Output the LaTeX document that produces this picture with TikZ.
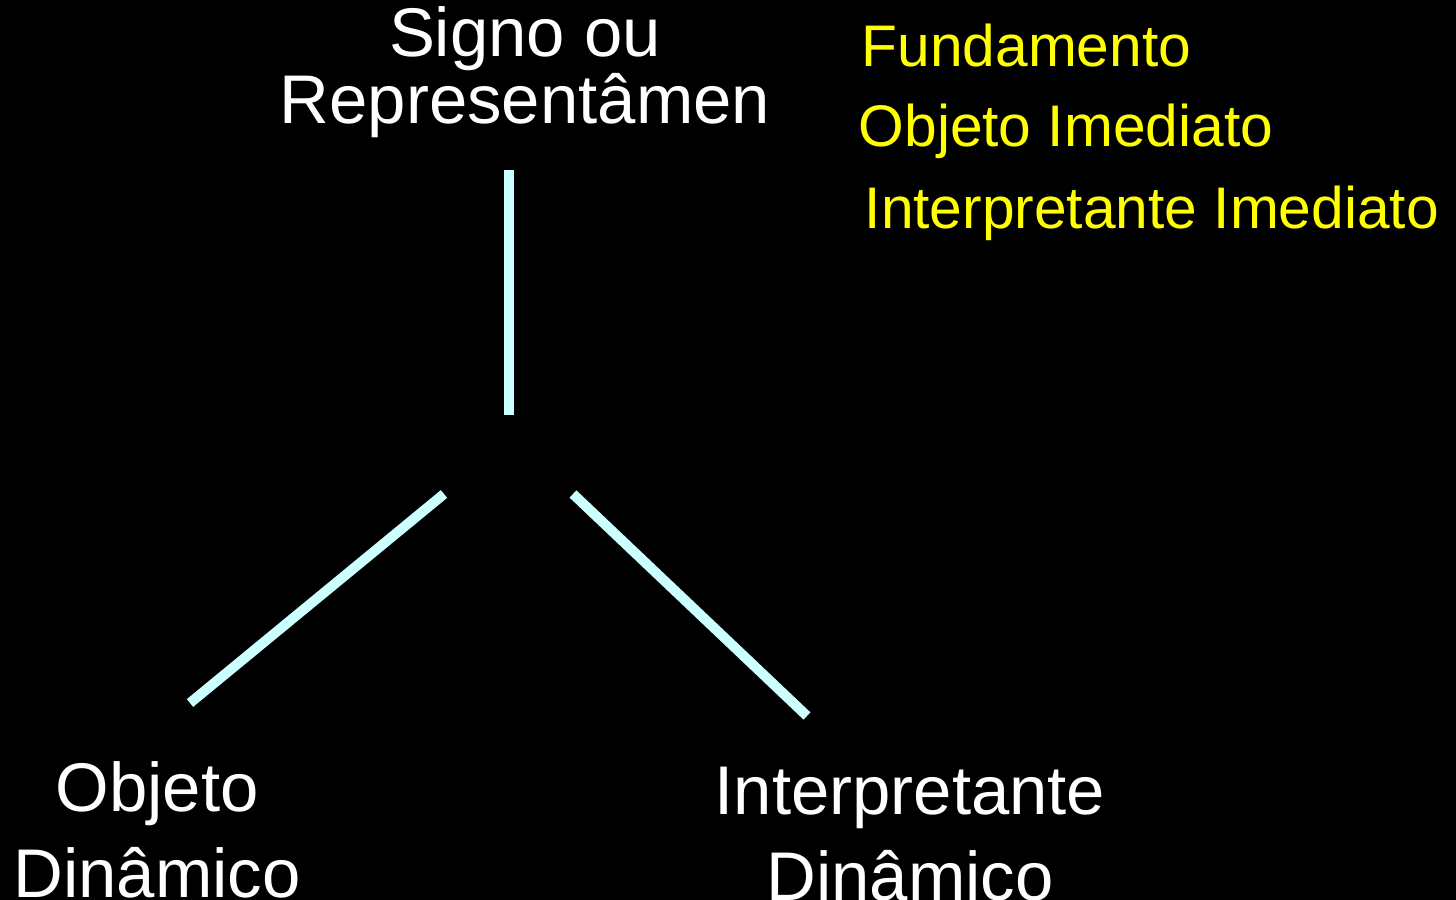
\documentclass[tikz,border=0pt]{standalone}
\usepackage{fontspec}
\setmainfont{Liberation Sans}
\usepackage{xcolor}
\usepackage{tikz}
\definecolor{back}{HTML}{000000}
\definecolor{text}{HTML}{FFFFFF}
\definecolor{ice}{HTML}{CCFFFF}
\definecolor{note}{HTML}{FFFF00}
\tikzset{
  signLine/.style={draw=ice, line width=1mm},
  signLabel/.style={text=text, anchor=base, align=center, inner sep=0pt},
  signNote/.style={text=note, anchor=base west, inner sep=0pt,
    font=\fontsize{16.7}{19}\selectfont}
}

\begin{document}
\begin{tikzpicture}[x=0.1mm, y=-0.1mm]
  \useasboundingbox (0,0) rectangle (1456,900);
  \fill[back] (0,0) rectangle (1456,900);

  \node[signLabel, font=\fontsize{19.6}{17.8}\selectfont] (signo) at (525,124)
    {Signo ou\\Representâmen};
  \node[signLabel, font=\fontsize{19.6}{24.3}\selectfont] (objeto) at (157,897)
    {Objeto\\Dinâmico};
  \node[signLabel, font=\fontsize{19.6}{24.3}\selectfont] (interp) at (910,900)
    {Interpretante\\Dinâmico};

  \node[signNote] (fund) at (861,67) {Fundamento};
  \node[signNote] (objImed) at (858,147) {Objeto Imediato};
  \node[signNote] (intImed) at (864,229) {Interpretante Imediato};

  \coordinate (S1) at (509,170);
  \coordinate (S2) at (509,415);
  \coordinate (O1) at (444,494);
  \coordinate (O2) at (190,703);
  \coordinate (I1) at (573,494);
  \coordinate (I2) at (807,716);

  \draw[signLine] (S1) -- (S2);
  \draw[signLine] (O1) -- (O2);
  \draw[signLine] (I1) -- (I2);
\end{tikzpicture}
\end{document}
